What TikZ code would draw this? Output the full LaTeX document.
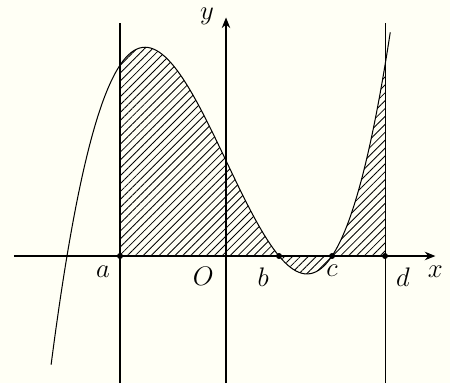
\documentclass[tikz,border=0pt]{standalone}
\usepackage{xcolor}
\usepackage{tikz}
\usetikzlibrary{arrows.meta, patterns.meta}

\definecolor{bgcream}{RGB}{255,255,245}

\begin{document}
\begin{tikzpicture}[
  x=1cm, y=1cm,
  axis/.style={-{Stealth[length=2mm, width=1.6mm]}, line width=0.55pt},
  bound/.style={line width=0.55pt},
  graph/.style={line width=0.55pt, smooth, samples=120},
  hatch/.style={pattern={Lines[angle=45, distance=3pt, line width=0.45pt]}},
  dot/.style={circle, fill, inner sep=0pt, minimum size=3.2pt},
  lbl/.style={font=\Large, inner sep=0pt},
  declare function={f(\x)=0.3*(\x*\x*\x-7*\x+6);}]

  % background and frame
  \fill[bgcream] (-4.264,-2.396) rectangle (4.226,4.830);
  \useasboundingbox (-4.264,-2.396) rectangle (4.226,4.830);

  \coordinate (O) at (0,0);
  \coordinate (xl) at (-4.0,0);
  \coordinate (xr) at (3.95,0);
  \coordinate (yb) at (0,-2.4);
  \coordinate (yt) at (0,4.5);

  % shaded area
  \fill[hatch] (-2,0) -- plot[graph, domain=-2:3] (\x,{f(\x)}) -- (3,0) -- cycle;

  % vertical lines x=a and x=d
  \draw[bound] (-2,-2.4) coordinate (abot) -- (-2,4.4) coordinate (atop);
  \draw[bound] (3,-2.4) coordinate (dbot) -- (3,4.4) coordinate (dtop);

  % axes
  \draw[axis] (xl) -- (xr);
  \draw[axis] (yb) -- (yt);

  % graph
  \draw[graph, domain=-3.3:3.1] plot (\x,{f(\x)});

  % points on the x-axis
  \node[dot] (a) at (-2,0) {};
  \node[dot] (b) at (1,0) {};
  \node[dot] (c) at (2,0) {};
  \node[dot] (d) at (3,0) {};

  \node[lbl, xshift=-0.32cm, yshift=-0.30cm] (la) at (a) {$a$};
  \node[lbl, xshift=-0.43cm, yshift=-0.38cm] (lO) at (O) {$O$};
  \node[lbl, xshift=-0.30cm, yshift=-0.40cm] (lb) at (b) {$b$};
  \node[lbl, xshift=0cm, yshift=-0.27cm] (lc) at (c) {$c$};
  \node[lbl, xshift=0.34cm, yshift=-0.40cm] (ld) at (d) {$d$};
  \node[lbl, xshift=0cm, yshift=-0.30cm] (lx) at (xr) {$x$};
  \node[lbl, xshift=-0.36cm, yshift=0.02cm] (ly) at (yt) {$y$};
\end{tikzpicture}
\end{document}
